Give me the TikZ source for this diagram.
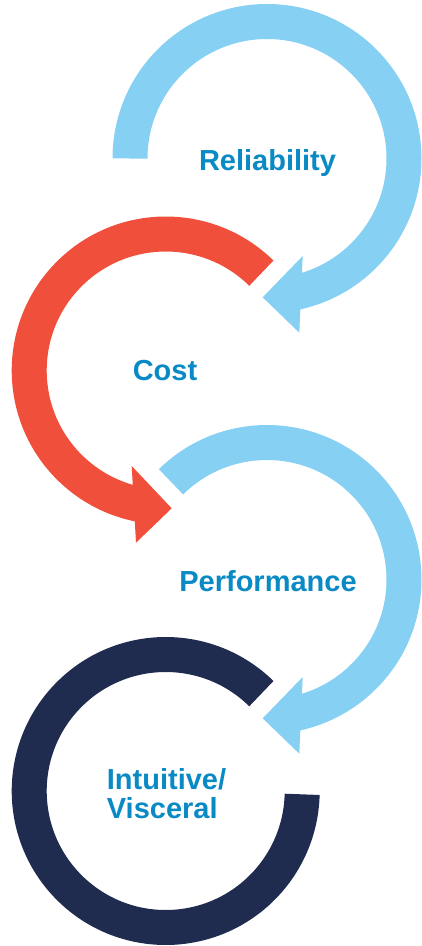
\documentclass[tikz,border=0pt]{standalone}
\usepackage{fontspec}
\newfontfamily\cyclefont{Liberation Sans}
\definecolor{skyblue}{HTML}{86D0F4}
\definecolor{costred}{HTML}{F0503B}
\definecolor{darknavy}{HTML}{1F2C4F}
\definecolor{labelblue}{HTML}{0A8AC4}
\begin{document}
\begin{tikzpicture}[x=1pt, y=1pt,
  ring/.style={line width=35pt},
  cyclelabel/.style={inner sep=0pt, text=labelblue, font=\cyclefont\bfseries\fontsize{29}{29.5}\selectfont}]
% Set the page size (one unit is one pixel)
\useasboundingbox (0,0) rectangle (422,-946);

% Centres of the four rings
\coordinate (c1) at (267,-158.5);
\coordinate (c2) at (165.7,-370.5);
\coordinate (c3) at (267,-579.5);
\coordinate (c4) at (165.7,-791);

% Draw the rings and their arrow heads
\draw[ring, skyblue] (c1) ++(180:137pt) arc[start angle=180, end angle=-78, radius=137pt];
\fill[skyblue] ([shift={(35.7,-97.5)}]c1) -- ([shift={(-4.3,-138.8)}]c1) -- ([shift={(32.3,-174.2)}]c1) -- cycle;
\draw[ring, costred] (c2) ++(45.5:136.5pt) arc[start angle=45.5, end angle=259, radius=136.5pt];
\fill[costred] ([shift={(-34,-95.5)}]c2) -- ([shift={(6,-137.8)}]c2) -- ([shift={(-29.7,-172.2)}]c2) -- cycle;
\draw[ring, skyblue] (c3) ++(134.5:137pt) arc[start angle=134.5, end angle=-78, radius=137pt];
\fill[skyblue] ([shift={(35.7,-97.5)}]c3) -- ([shift={(-4.3,-138.8)}]c3) -- ([shift={(32.3,-174.2)}]c3) -- cycle;
\draw[ring, darknavy] (c4) ++(45.5:136.5pt) arc[start angle=45.5, end angle=358.6, radius=136.5pt];

% Insert the labels
\node[cyclelabel, anchor=base] (reliability) at (267.5,-170) {Reliability};
\node[cyclelabel, anchor=base] (cost) at (165,-380.7) {Cost};
\node[cyclelabel, anchor=base] (performance) at (268,-591.7) {Performance};
\node[cyclelabel, anchor=base west, align=left] (intuitive) at (106.7,-818.5) {Intuitive/\\Visceral};
\end{tikzpicture}
\end{document}
